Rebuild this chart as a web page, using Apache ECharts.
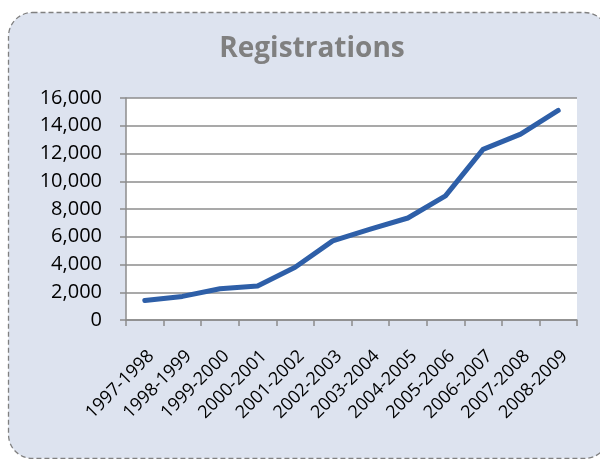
<!DOCTYPE html>
<html>
<head>
<meta charset="utf-8">
<script src="https://cdn.jsdelivr.net/npm/echarts@6/dist/echarts.min.js"></script>
<style>
  html, body { margin: 0; padding: 0; background: #fff; }
  #chart { width: 600px; height: 459px; }
</style>
</head>
<body>
<div id="chart"></div>
<script>
// seasons on the x axis
var seasons = ['1997-1998', '1998-1999', '1999-2000', '2000-2001', '2001-2002', '2002-2003',
  '2003-2004', '2004-2005', '2005-2006', '2006-2007', '2007-2008', '2008-2009'];
// registrations per season
var registrations = [1400, 1700, 2250, 2450, 3800, 5700, 6550, 7350, 8950, 12300, 13400, 15100];
var yTicks = [0, 2000, 4000, 6000, 8000, 10000, 12000, 14000, 16000];

var chart = echarts.init(document.getElementById('chart'));
var font = '"Open Sans", "Noto Sans", sans-serif';

var option = {
  animation: false,
  backgroundColor: '#fff',
  graphic: [{
    type: 'rect',
    z: -10,
    shape: { x: 8.5, y: 12.5, width: 600, height: 446, r: 24 },
    style: { fill: '#dde3ef', stroke: '#808080', lineWidth: 1.3, lineDash: [5, 3] }
  }],
  title: {
    text: 'Registrations',
    left: 307,
    top: 30,
    textAlign: 'center',
    textStyle: { fontFamily: font, fontSize: 28, fontWeight: 'bold', color: '#808080' }
  },
  grid: {
    left: 126, right: 23, top: 98, bottom: 139,
    show: true, backgroundColor: '#fff', borderWidth: 0
  },
  xAxis: {
    type: 'category',
    data: seasons,
    boundaryGap: true,
    axisLine: { lineStyle: { color: '#8c8c8c', width: 1.5 } },
    axisTick: { show: true, length: 6, lineStyle: { color: '#8c8c8c', width: 1.5 } },
    axisLabel: {
      rotate: 45, interval: 0, margin: 27,
      align: 'right', verticalAlign: 'top',
      fontFamily: font, fontSize: 18, color: '#000'
    }
  },
  yAxis: {
    type: 'value',
    min: yTicks[0],
    max: yTicks[yTicks.length - 1],
    interval: 2000,
    axisLine: { show: true, lineStyle: { color: '#8c8c8c', width: 1.5 } },
    axisTick: { show: true, length: 6, lineStyle: { color: '#8c8c8c', width: 1.5 } },
    splitLine: { lineStyle: { color: '#8c8c8c', width: 1.5 } },
    axisLabel: {
      margin: 24, fontFamily: font, fontSize: 20, color: '#000',
      formatter: function (v) { return v.toLocaleString('en-US'); }
    }
  },
  series: [{
    type: 'line',
    data: registrations,
    symbol: 'none',
    lineStyle: { color: '#2e5fa8', width: 5, cap: 'round', join: 'round' }
  }]
};
chart.setOption(option);
</script>
</body>
</html>
